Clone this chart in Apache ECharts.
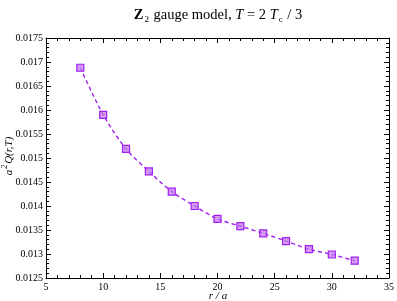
<!DOCTYPE html>
<html><head><meta charset="utf-8">
<script src="https://cdn.jsdelivr.net/npm/echarts@6/dist/echarts.min.js"></script>
<style>html,body{margin:0;padding:0;background:#fff}#c{width:397px;height:301px}</style>
</head><body><div id="c"></div>
<script>
const rValues = [8, 10, 12, 14, 16, 18, 20, 22, 24, 26, 28, 30, 32];
const qValues = [0.01688, 0.01590, 0.01519, 0.01472, 0.01430, 0.01400, 0.01373, 0.01358, 0.01343, 0.01327, 0.01310, 0.01299, 0.01286];
const xTicks = [5, 35, 5];
const yTicks = [0.0125, 0.0175, 0.0005];

const data = rValues.map((r, i) => [r, qValues[i]]);
const serif = '"Liberation Serif","DejaVu Serif",serif';
const purple = '#a020f0';
const chart = echarts.init(document.getElementById('c'));
const axisCommon = {
  axisLine: {show: true, onZero: false, lineStyle: {color: '#000', width: 1}},
  axisTick: {show: true, inside: true, length: 5, lineStyle: {color: '#000'}},
  minorTick: {show: true, splitNumber: 5, length: 3, lineStyle: {color: '#000'}},
  splitLine: {show: false}
};
chart.setOption({
  animation: false,
  grid: {left: 46, right: 6, top: 38, bottom: 23},
  xAxis: [
    Object.assign({type: 'value', min: xTicks[0], max: xTicks[1], interval: xTicks[2], position: 'bottom',
      axisLabel: {color: '#000', fontFamily: serif, fontSize: 10, margin: 4}}, axisCommon),
    Object.assign({type: 'value', min: xTicks[0], max: xTicks[1], interval: xTicks[2], position: 'top',
      axisLabel: {show: false}}, axisCommon)
  ],
  yAxis: [
    Object.assign({type: 'value', min: yTicks[0], max: yTicks[1], interval: yTicks[2], position: 'left',
      axisLabel: {color: '#000', fontFamily: serif, fontSize: 10, margin: 3,
        formatter: v => String(+v.toFixed(5))}}, axisCommon),
    Object.assign({type: 'value', min: yTicks[0], max: yTicks[1], interval: yTicks[2], position: 'right',
      axisLabel: {show: false}}, axisCommon)
  ],
  series: [{
    type: 'line', data: data, smooth: 0.3,
    symbol: 'rect', symbolSize: 7,
    lineStyle: {color: purple, width: 1.4, type: [4, 3]},
    itemStyle: {color: 'rgba(195,120,240,0.75)', borderColor: purple, borderWidth: 1.2}
  }],
  graphic: [
    {type: 'text', x: 218, y: 15, style: {
      text: '{b|Z}{s|2}{n| gauge model, }{i|T}{n| = 2 }{i|T}{s|c}{n| / 3}',
      align: 'center', verticalAlign: 'middle',
      rich: {
        b: {fontFamily: serif, fontWeight: 'bold', fontSize: 14.5, fill: '#000'},
        n: {fontFamily: serif, fontSize: 14.5, fill: '#000'},
        i: {fontFamily: serif, fontStyle: 'italic', fontSize: 14.5, fill: '#000'},
        s: {fontFamily: serif, fontSize: 9, fill: '#000', verticalAlign: 'bottom', padding: [9, 1, 0, 1]}
      }}},
    {type: 'text', x: 9, y: 156, rotation: Math.PI / 2, style: {
      text: '{i|a}{p|2}{i|Q(r,T)}', align: 'center', verticalAlign: 'middle',
      rich: {
        i: {fontFamily: serif, fontStyle: 'italic', fontSize: 11, fill: '#000'},
        p: {fontFamily: serif, fontStyle: 'italic', fontSize: 8, fill: '#000', padding: [0, 1, 8, 1]}
      }}},
    {type: 'text', x: 218, y: 296, style: {
      text: 'r / a', align: 'center', verticalAlign: 'middle',
      fontFamily: serif, fontStyle: 'italic', fontSize: 11, fill: '#000'}}
  ]
});
</script></body></html>
